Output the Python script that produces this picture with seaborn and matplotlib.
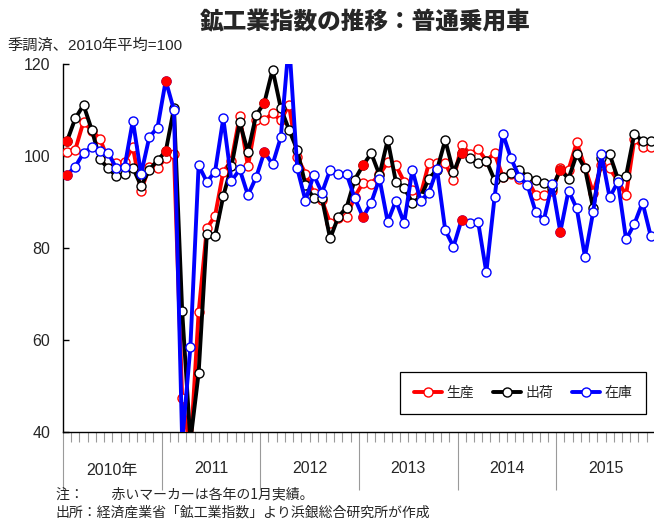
import numpy as np
import pandas as pd
import matplotlib
matplotlib.use("Agg")
import matplotlib.pyplot as plt
import matplotlib.transforms as mtransforms
import seaborn as sns

# ─────────────────────────────────────────────
# Data (monthly, Jan 2010 - Dec 2015, 2010 avg = 100)
# ─────────────────────────────────────────────
years = [2010, 2011, 2012, 2013, 2014, 2015]
year_labels = ["2010年", "2011", "2012", "2013", "2014", "2015"]

production = [
    100.9, 101.4, 107.5, 105.5, 103.8, 99.1, 98.4, 98.8, 101.9, 92.4, 97.7, 97.5,
    99.5, 100.4, 47.4, 36.0, 66.0, 84.3, 87.0, 96.6, 99.0, 108.7, 97.8, 107.8,
    107.8, 109.3, 107.8, 111.1, 99.7, 96.2, 91.9, 90.4, 85.4, 86.5, 86.8, 91.2,
    94.2, 94.0, 96.0, 98.6, 98.0, 94.4, 92.6, 91.5, 98.4, 98.4, 98.4, 94.9,
    102.4, 100.5, 101.5, 99.0, 100.6, 95.5, 96.0, 95.0, 95.0, 91.5, 91.5, 92.5,
    97.3, 97.0, 103.0, 97.5, 92.0, 98.0, 97.3, 94.6, 91.5, 103.6, 102.0, 102.0,
]
shipments = [
    103.3, 108.2, 111.1, 105.7, 99.3, 97.3, 95.7, 96.2, 97.5, 93.5, 97.0, 99.1,
    101.0, 110.4, 66.3, 38.0, 52.8, 83.0, 82.6, 91.3, 97.8, 107.3, 100.9, 108.9,
    111.6, 118.8, 110.4, 105.7, 101.3, 93.7, 90.8, 90.8, 82.1, 86.8, 88.8, 94.9,
    98.0, 100.6, 95.9, 103.5, 94.4, 93.1, 89.9, 91.0, 95.1, 97.0, 103.5, 96.5,
    100.6, 99.5, 98.4, 99.0, 94.8, 95.4, 96.4, 97.0, 95.5, 94.8, 94.2, 93.0,
    97.0, 95.1, 100.4, 97.3, 88.6, 99.5, 100.4, 95.1, 95.7, 104.8, 103.3, 103.3,
]
inventory = [
    95.9, 97.7, 100.7, 101.9, 101.2, 100.7, 97.3, 97.7, 107.7, 96.1, 104.1, 106.2,
    116.4, 110.0, 38.0, 58.5, 98.0, 94.4, 96.6, 108.2, 94.6, 97.1, 91.5, 95.4,
    100.9, 98.2, 104.1, 125.0, 97.3, 90.3, 95.9, 92.0, 97.0, 96.2, 96.1, 90.8,
    86.7, 89.9, 95.1, 85.7, 90.3, 85.4, 97.0, 90.3, 92.0, 97.1, 83.9, 80.3,
    86.2, 85.4, 85.7, 74.7, 91.0, 104.9, 99.5, 95.5, 93.7, 87.9, 86.1, 93.9,
    83.5, 92.5, 88.6, 78.1, 87.9, 100.4, 91.0, 94.4, 81.9, 85.2, 89.9, 82.6,
]

series_names = ["生産", "出荷", "在庫"]
series_colors = ["#FF0000", "#000000", "#0000FF"]

n_months = len(production)
month_idx = np.arange(n_months)

df = pd.DataFrame({
    "month": np.tile(month_idx, 3),
    "value": production + shipments + inventory,
    "series": np.repeat(series_names, n_months),
})

# ─────────────────────────────────────────────
# Plot
# ─────────────────────────────────────────────
sns.set_theme(style="white")
plt.rcParams["font.family"] = ["Liberation Sans", "Noto Sans CJK JP", "DejaVu Sans"]
jp_font = ["Noto Sans CJK JP", "DejaVu Sans"]

fig = plt.figure(figsize=(6.54, 5.25), dpi=100)
ax = fig.add_axes([0.0963, 0.177, 0.905, 0.701])

for z, (name, color) in enumerate(zip(series_names, series_colors)):
    sub = df[df["series"] == name]
    sns.lineplot(
        data=sub, x="month", y="value", ax=ax,
        color=color, linewidth=2.8, marker="o", markersize=6.5,
        markerfacecolor="white", markeredgecolor=color, markeredgewidth=1.0,
        label=name, zorder=3 + z,
    )
    # January actuals in red (shipments / inventory)
    if name != "生産":
        jan = sub[sub["month"] % 12 == 0]
        ax.plot(jan["month"], jan["value"], "o", markersize=6.5,
                markerfacecolor="#FF0000", markeredgecolor="#FF0000",
                zorder=3 + z + 0.5)

ax.set_xlim(-0.5, n_months - 0.5)
ax.set_ylim(40, 120)
ax.set_yticks([40, 60, 80, 100, 120])
ax.tick_params(axis="y", direction="in", length=4, width=1, color="black",
               labelsize=11.5, pad=9, left=True)
ax.set_xlabel("")
ax.set_ylabel("")

for side in ["top", "right"]:
    ax.spines[side].set_visible(False)
for side in ["left", "bottom"]:
    ax.spines[side].set_color("black")
    ax.spines[side].set_linewidth(1.0)

# month ticks and year separators below the axis
ax.set_xticks(np.arange(-0.5, n_months, 12))
ax.set_xticks(np.arange(-0.5, n_months, 1), minor=True)
ax.set_xticklabels([])
ax.tick_params(axis="x", which="major", direction="out", length=42,
               width=0.8, color="#9a9a9a", bottom=True)
ax.tick_params(axis="x", which="minor", direction="out", length=7,
               width=0.8, color="#9a9a9a", bottom=True)

trans = mtransforms.blended_transform_factory(ax.transData, ax.transAxes)
for i, lab in enumerate(year_labels):
    ax.text(i * 12 + 5.5, -0.105 if i == 0 else -0.098, lab, transform=trans,
            ha="center", va="center", fontsize=11.5)

leg = ax.legend(loc="lower right", bbox_to_anchor=(0.985, 0.049), ncol=3,
                prop={"family": jp_font, "size": 10}, frameon=True,
                fancybox=False, framealpha=1, edgecolor="black",
                handlelength=2.0, columnspacing=1.4, handletextpad=0.3,
                borderpad=1.0, borderaxespad=0.0)
leg.get_frame().set_linewidth(0.9)

fig.text(0.558, 0.958, "鉱工業指数の推移：普通乗用車", ha="center",
         va="center", fontsize=17, fontweight="black", family=jp_font)
fig.text(0.012, 0.912, "季調済、2010年平均=100", ha="left", va="center",
         fontsize=11)
fig.text(0.085, 0.059, "注：　　赤いマーカーは各年の1月実績。", ha="left",
         va="center", fontsize=10, family=jp_font)
fig.text(0.085, 0.024, "出所：経済産業省「鉱工業指数」より浜銀総合研究所が作成",
         ha="left", va="center", fontsize=10, family=jp_font)

fig.savefig("out.png", dpi=100)
plt.close(fig)
